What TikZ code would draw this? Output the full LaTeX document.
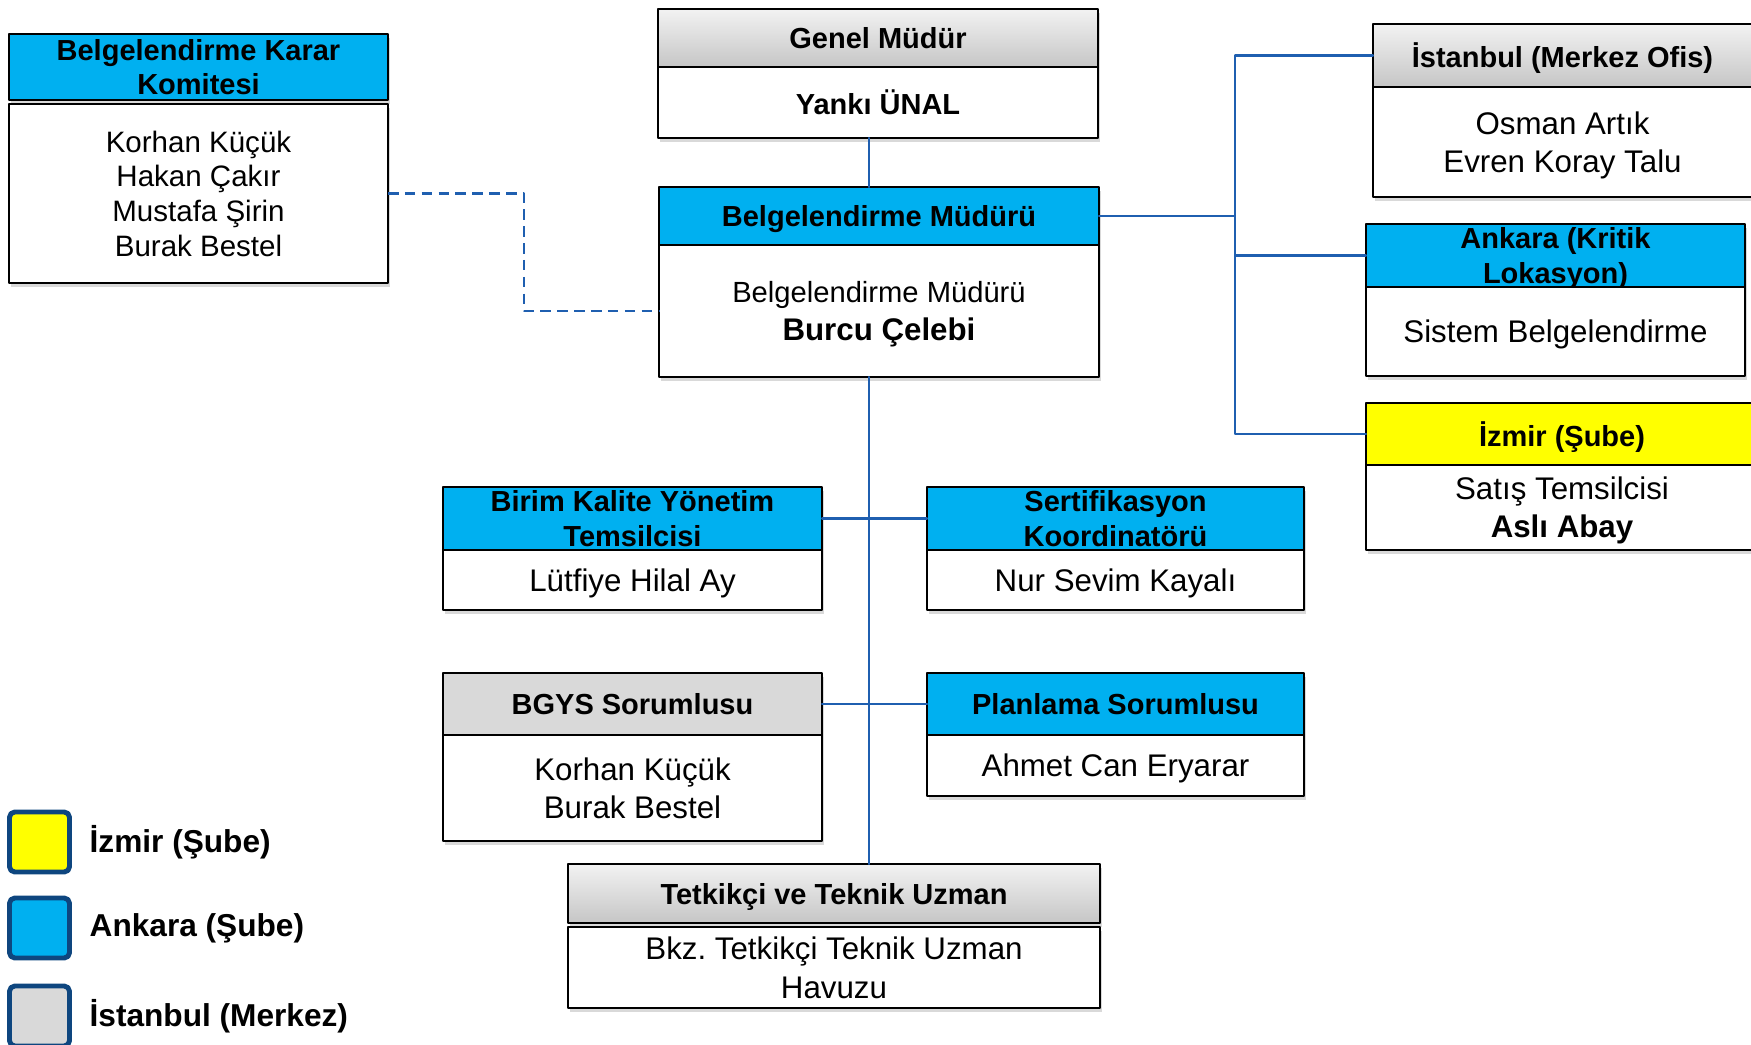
\documentclass[tikz,border=0pt]{standalone}
\usepackage{fontspec}
\setmainfont{Liberation Sans}
\usepackage{tikz}
\usetikzlibrary{positioning}
\usetikzlibrary{shadows}
\usetikzlibrary{calc}

\definecolor{hdBlue}{HTML}{00B0F0}
\definecolor{izYellow}{HTML}{FFFF00}
\definecolor{mkGray}{HTML}{D9D9D9}
\definecolor{lnBlue}{HTML}{1F5FB0}
\definecolor{lgFrame}{HTML}{0E467F}

\begin{document}
\begin{tikzpicture}[line cap=round,line join=round,x=0.1mm,y=-0.1mm,
  box/.style={draw=black,line width=0.7pt,inner sep=0pt,outer sep=0pt,align=center,text depth=0pt,
    drop shadow={shadow xshift=0.6pt,shadow yshift=-1.2pt,opacity=0.3}},
  hdr/.style={box,font=\fontsize{8.25}{9.8}\selectfont\bfseries},
  bdy/.style={box,fill=white,font=\fontsize{8.9}{10.9}\selectfont},
  blueHdr/.style={hdr,fill=hdBlue},
  grayHdr/.style={hdr,top color=gray!10,bottom color=gray!45},
  wire/.style={draw=lnBlue,line width=0.6pt},
  legbox/.style={draw=lgFrame,line width=1.4pt,rounded corners=1.5pt,minimum size=0.6cm},
  legtext/.style={font=\fontsize{9}{10}\selectfont\bfseries,anchor=west,inner sep=0pt}]
\useasboundingbox (0,0) rectangle (1751,1044);
\clip (0,0) rectangle (1751,1044);
% komite
\node[blueHdr,minimum width=3.79cm,minimum height=0.66cm] (kkH) at (198.5,67) {Belgelendirme Karar\\Komitesi};
\node[bdy,font=\fontsize{8.4}{9.9}\selectfont,minimum width=3.79cm,minimum height=1.79cm,below=0.04cm of kkH] (kkB) {Korhan Küçük\\Hakan Çakır\\Mustafa Şirin\\Burak Bestel};
% genel mudur
\node[grayHdr,minimum width=4.4cm,minimum height=0.58cm] (gmH) at (878,38) {Genel Müdür};
\node[bdy,font=\fontsize{8.25}{9}\selectfont\bfseries,minimum width=4.4cm,minimum height=0.71cm,below=0pt of gmH] (gmB) {Yankı ÜNAL};
% belgelendirme mudur
\node[blueHdr,minimum width=4.4cm,minimum height=0.58cm] (bmH) at (879,216) {Belgelendirme Müdürü};
\node[bdy,minimum width=4.4cm,minimum height=1.32cm,below=0pt of bmH] (bmB) {{\fontsize{8.3}{10}\selectfont Belgelendirme Müdürü}\\\textbf{Burcu Çelebi}};
% lokasyonlar
\node[grayHdr,minimum width=3.79cm,minimum height=0.63cm] (isH) at (1562.5,55.5) {İstanbul (Merkez Ofis)};
\node[bdy,minimum width=3.79cm,minimum height=1.10cm,below=0pt of isH] (isB) {Osman Artık\\Evren Koray Talu};
\node[blueHdr,minimum width=3.79cm,minimum height=0.63cm] (anH) at (1555.5,255.5) {Ankara (Kritik\\Lokasyon)};
\node[bdy,minimum width=3.79cm,minimum height=0.89cm,below=0pt of anH] (anB) {Sistem Belgelendirme};
\node[hdr,fill=izYellow,minimum width=3.92cm,minimum height=0.62cm] (izH) at (1562,434) {İzmir (Şube)};
\node[bdy,minimum width=3.92cm,minimum height=0.85cm,below=0pt of izH] (izB) {Satış Temsilcisi\\\textbf{Aslı Abay}};
% birimler
\node[blueHdr,minimum width=3.79cm,minimum height=0.63cm] (bkH) at (632.5,518.5) {Birim Kalite Yönetim\\Temsilcisi};
\node[bdy,minimum width=3.79cm,minimum height=0.60cm,below=0pt of bkH] (bkB) {Lütfiye Hilal Ay};
\node[blueHdr,minimum width=3.77cm,minimum height=0.63cm] (sfH) at (1115.5,518.5) {Sertifikasyon\\Koordinatörü};
\node[bdy,minimum width=3.77cm,minimum height=0.60cm,below=0pt of sfH] (sfB) {Nur Sevim Kayalı};
\node[hdr,fill=mkGray,minimum width=3.79cm,minimum height=0.62cm] (bgH) at (632.5,704) {BGYS Sorumlusu};
\node[bdy,minimum width=3.79cm,minimum height=1.06cm,below=0pt of bgH] (bgB) {Korhan Küçük\\Burak Bestel};
\node[blueHdr,minimum width=3.77cm,minimum height=0.62cm] (plH) at (1115.5,704) {Planlama Sorumlusu};
\node[bdy,minimum width=3.77cm,minimum height=0.61cm,below=0pt of plH] (plB) {Ahmet Can Eryarar};
\node[grayHdr,minimum width=5.32cm,minimum height=0.59cm] (tkH) at (834,893.5) {Tetkikçi ve Teknik Uzman};
\node[bdy,minimum width=5.32cm,minimum height=0.81cm,below=0.04cm of tkH] (tkB) {Bkz.\ Tetkikçi Teknik Uzman\\Havuzu};
% baglantilar
\coordinate (spine) at (869,0);
\coordinate (rj) at (1235,0);
\coordinate (dj) at (524,0);
\draw[wire] (gmB.south -| spine) -- (bmH.north -| spine);
\draw[wire] (bmB.south -| spine) -- (tkH.north -| spine);
\draw[wire] (bkH.east) -- (sfH.west);
\draw[wire] (bgH.east) -- (plH.west);
\draw[wire] (bmH.east) -- (bmH.east -| rj) |- (isH.west);
\draw[wire] (bmH.east -| rj) |- (anH.west);
\draw[wire] (bmH.east -| rj) |- (izH.west);
\draw[wire,line cap=butt,dash pattern=on 3pt off 1.8pt] (kkB.east) -- (kkB.east -| dj) -- (bmB.west -| dj) -- (bmB.west);
% lejant
\foreach \n/\c/\y/\t in {lgIz/izYellow/842/İzmir (Şube),lgAn/hdBlue/928/Ankara (Şube),lgIs/mkGray/1016/İstanbul (Merkez)}
\node[legbox,fill=\c] (\n) at (39.5,\y) {} node[legtext,right=0.17cm of \n] (\n T) {\t};
\end{tikzpicture}
\end{document}
